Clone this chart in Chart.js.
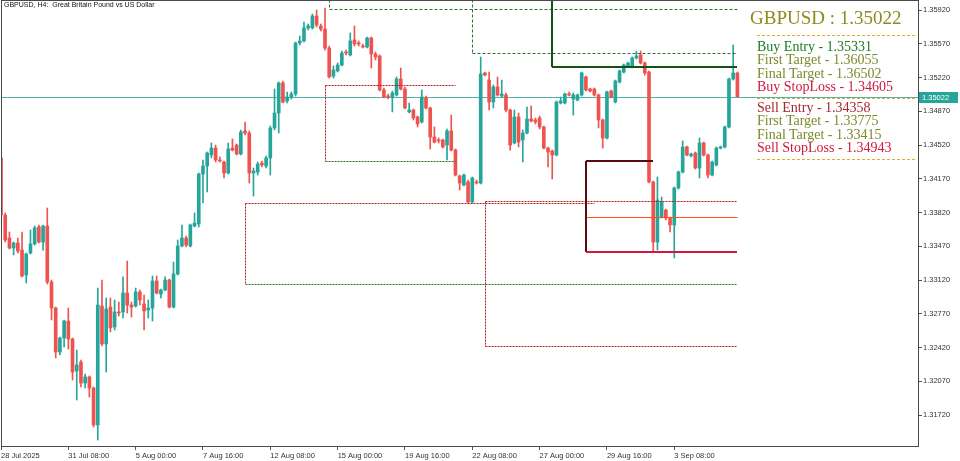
<!DOCTYPE html>
<html>
<head>
<meta charset="utf-8">
<title>GBPUSD H4</title>
<script src="https://cdn.jsdelivr.net/npm/chart.js@4.4.1/dist/chart.umd.min.js"></script>
<style>
  html, body { margin: 0; padding: 0; background: #fff; }
  #wrap { position: relative; width: 960px; height: 461px; overflow: hidden; }
  canvas { display: block; }
  #symbol { position: absolute; left: 4px; top: 1px; font: 7px "Liberation Sans", Arial, sans-serif; color: #111; white-space: pre; }
  .panel { position: absolute; font-family: "Liberation Serif", "Times New Roman", serif; white-space: nowrap; }
  #head { left: 750px; top: 8px; font-size: 19px; line-height: 19px; color: #8c8c1c; }
  .grp { left: 757px; font-size: 14px; line-height: 13.3px; }
  #buyGrp { top: 40px; }
  #sellGrp { top: 101px; }
  .entryBuy { color: #1e7b1e; }
  .tgt { color: #7b8a2a; }
  .stop { color: #d0183f; }
  .entrySell { color: #a52634; }
</style>
</head>
<body>
<div id="wrap">
  <canvas id="chart" width="960" height="461"></canvas>
  <div id="symbol">GBPUSD, H4:  Great Britain Pound vs US Dollar</div>
  <div class="panel" id="head"></div>
  <div class="panel grp" id="buyGrp"></div>
  <div class="panel grp" id="sellGrp"></div>
</div>
<script>
// H4 candles, 28 Jul 2025 16:00 .. 5 Sep 2025 20:00
const opens = [
  1.34386, 1.33794, 1.33556, 1.33452, 1.33504, 1.33431, 1.33172, 1.33400, 1.33494, 1.33670,
  1.33514, 1.33680, 1.33100, 1.32830, 1.32374, 1.32519, 1.32695, 1.32509, 1.32177, 1.32270,
  1.32052, 1.32115, 1.32000, 1.31617, 1.32851, 1.32457, 1.32840, 1.32633, 1.32789, 1.32789,
  1.32986, 1.32861, 1.32851, 1.32996, 1.32872, 1.32809, 1.32830, 1.33110, 1.32975, 1.33017,
  1.33120, 1.32840, 1.33183, 1.33473, 1.33556, 1.33473, 1.33680, 1.33701, 1.34220, 1.34303,
  1.34417, 1.34489, 1.34365, 1.34344, 1.34230, 1.34489, 1.34520, 1.34427, 1.34666, 1.34645,
  1.34230, 1.34240, 1.34334, 1.34303, 1.34386, 1.34697, 1.34852, 1.35163, 1.34977, 1.35018,
  1.35049, 1.35578, 1.35599, 1.35734, 1.35734, 1.35858, 1.35754, 1.35723, 1.35526, 1.35236,
  1.35288, 1.35350, 1.35485, 1.35454, 1.35609, 1.35578, 1.35547, 1.35537, 1.35630, 1.35464,
  1.35443, 1.35091, 1.35028, 1.35018, 1.35039, 1.35205, 1.35101, 1.34863, 1.34883, 1.34811,
  1.34759, 1.35008, 1.34904, 1.34603, 1.34572, 1.34572, 1.34520, 1.34666, 1.34468, 1.34199,
  1.34106, 1.34137, 1.33929, 1.34137, 1.34126, 1.35267, 1.35194, 1.34966, 1.35122, 1.35028,
  1.35039, 1.34883, 1.34541, 1.34811, 1.34572, 1.34645, 1.34790, 1.34780, 1.34800, 1.34707,
  1.34489, 1.34458, 1.34417, 1.34956, 1.34956, 1.35049, 1.34997, 1.34987, 1.35039, 1.35226,
  1.35101, 1.35101, 1.35039, 1.34780, 1.34593, 1.35080, 1.34966, 1.35174, 1.35277, 1.35340,
  1.35329, 1.35423, 1.35454, 1.35371, 1.35277, 1.34137, 1.33514, 1.33774, 1.33846, 1.33763,
  1.33691, 1.34074, 1.34240, 1.34500, 1.34406, 1.34437, 1.34282, 1.34541, 1.34417, 1.34209,
  1.34313, 1.34489, 1.34500, 1.34707, 1.35205, 1.35267
];
const highs = [
  1.34417, 1.33815, 1.33618, 1.33514, 1.33556, 1.33618, 1.33400, 1.33639, 1.33680, 1.33691,
  1.33691, 1.33867, 1.33120, 1.32840, 1.32529, 1.32706, 1.32830, 1.32519, 1.32394, 1.32291,
  1.32146, 1.32125, 1.32011, 1.33037, 1.33120, 1.32934, 1.32934, 1.32913, 1.32892, 1.33152,
  1.33317, 1.32892, 1.33037, 1.33017, 1.32965, 1.32913, 1.33162, 1.33162, 1.33027, 1.33152,
  1.33131, 1.33307, 1.33535, 1.33691, 1.33577, 1.33701, 1.33815, 1.34230, 1.34365, 1.34448,
  1.34541, 1.34520, 1.34396, 1.34354, 1.34541, 1.34583, 1.34531, 1.34676, 1.34759, 1.34666,
  1.34282, 1.34344, 1.34354, 1.34406, 1.34717, 1.35101, 1.35174, 1.35184, 1.35070, 1.35070,
  1.35588, 1.35651, 1.35796, 1.35775, 1.35879, 1.35920, 1.35775, 1.35941, 1.35547, 1.35340,
  1.35371, 1.35495, 1.35505, 1.35682, 1.35754, 1.35599, 1.35568, 1.35640, 1.35640, 1.35485,
  1.35454, 1.35111, 1.35049, 1.35080, 1.35226, 1.35319, 1.35122, 1.34956, 1.34894, 1.34821,
  1.35091, 1.35028, 1.34914, 1.34707, 1.34593, 1.34583, 1.34686, 1.34831, 1.34479, 1.34209,
  1.34220, 1.34157, 1.34189, 1.34157, 1.35433, 1.35277, 1.35277, 1.35143, 1.35226, 1.35194,
  1.35060, 1.34894, 1.34883, 1.34852, 1.34676, 1.34914, 1.34925, 1.34800, 1.34821, 1.34717,
  1.34500, 1.34468, 1.34977, 1.35018, 1.35060, 1.35070, 1.35060, 1.35049, 1.35277, 1.35236,
  1.35111, 1.35111, 1.35049, 1.34790, 1.35080, 1.35091, 1.35194, 1.35298, 1.35360, 1.35381,
  1.35433, 1.35495, 1.35495, 1.35381, 1.35288, 1.34147, 1.34189, 1.33981, 1.33857, 1.33774,
  1.34085, 1.34251, 1.34562, 1.34510, 1.34437, 1.34448, 1.34593, 1.34551, 1.34427, 1.34354,
  1.34500, 1.34510, 1.34717, 1.35215, 1.35557, 1.35277
];
const lows = [
  1.33774, 1.33514, 1.33442, 1.33380, 1.33400, 1.33152, 1.33089, 1.33390, 1.33483, 1.33504,
  1.33431, 1.33079, 1.32706, 1.32312, 1.32343, 1.32426, 1.32405, 1.32083, 1.31876, 1.32011,
  1.32000, 1.31907, 1.31596, 1.31461, 1.32436, 1.32166, 1.32581, 1.32602, 1.32747, 1.32726,
  1.32778, 1.32737, 1.32840, 1.32861, 1.32602, 1.32726, 1.32695, 1.32975, 1.32934, 1.33006,
  1.32830, 1.32830, 1.33172, 1.33463, 1.33463, 1.33463, 1.33670, 1.33670, 1.33919, 1.34033,
  1.34386, 1.34344, 1.34344, 1.34178, 1.34220, 1.34458, 1.34417, 1.34417, 1.34624, 1.34126,
  1.33991, 1.34209, 1.34292, 1.34282, 1.34209, 1.34676, 1.34645, 1.34956, 1.34956, 1.34997,
  1.35028, 1.35557, 1.35588, 1.35713, 1.35723, 1.35744, 1.35703, 1.35505, 1.35215, 1.35215,
  1.35277, 1.35340, 1.35454, 1.35443, 1.35547, 1.35547, 1.35526, 1.35526, 1.35319, 1.35402,
  1.35080, 1.35008, 1.34997, 1.34863, 1.35028, 1.35091, 1.34894, 1.34852, 1.34780, 1.34707,
  1.34748, 1.34894, 1.34479, 1.34541, 1.34541, 1.34489, 1.34365, 1.34458, 1.34199, 1.34054,
  1.34095, 1.33919, 1.33919, 1.34116, 1.34116, 1.35236, 1.34883, 1.34904, 1.35028, 1.35018,
  1.34863, 1.34468, 1.34531, 1.34500, 1.34344, 1.34634, 1.34759, 1.34738, 1.34686, 1.34479,
  1.34292, 1.34168, 1.34406, 1.34946, 1.34946, 1.35028, 1.34831, 1.34977, 1.35028, 1.35080,
  1.35070, 1.35028, 1.34697, 1.34489, 1.34583, 1.35008, 1.34956, 1.35163, 1.35267, 1.35329,
  1.35319, 1.35412, 1.35360, 1.35246, 1.34126, 1.33411, 1.33431, 1.33763, 1.33743, 1.33618,
  1.33349, 1.34064, 1.34230, 1.34406, 1.34396, 1.34271, 1.34178, 1.34406, 1.34178, 1.34199,
  1.34303, 1.34479, 1.34489, 1.34697, 1.35194, 1.35016
];
const closes = [
  1.33794, 1.33535, 1.33452, 1.33504, 1.33421, 1.33162, 1.33390, 1.33494, 1.33660, 1.33514,
  1.33680, 1.33100, 1.32830, 1.32374, 1.32519, 1.32695, 1.32509, 1.32166, 1.32239, 1.32052,
  1.32115, 1.32000, 1.31617, 1.32861, 1.32457, 1.32820, 1.32623, 1.32789, 1.32778, 1.32986,
  1.32861, 1.32840, 1.32996, 1.32913, 1.32799, 1.32830, 1.33110, 1.32986, 1.33017, 1.33120,
  1.32840, 1.33183, 1.33473, 1.33556, 1.33483, 1.33691, 1.33711, 1.34220, 1.34303, 1.34437,
  1.34489, 1.34365, 1.34354, 1.34230, 1.34479, 1.34468, 1.34427, 1.34655, 1.34645, 1.34230,
  1.34251, 1.34323, 1.34313, 1.34386, 1.34697, 1.34852, 1.35163, 1.34966, 1.35018, 1.35049,
  1.35578, 1.35599, 1.35734, 1.35754, 1.35858, 1.35765, 1.35723, 1.35526, 1.35226, 1.35298,
  1.35350, 1.35474, 1.35474, 1.35599, 1.35568, 1.35568, 1.35537, 1.35630, 1.35464, 1.35433,
  1.35091, 1.35018, 1.35018, 1.35060, 1.35205, 1.35101, 1.34904, 1.34883, 1.34800, 1.34738,
  1.35018, 1.34904, 1.34603, 1.34551, 1.34562, 1.34500, 1.34666, 1.34468, 1.34209, 1.34126,
  1.34209, 1.33929, 1.34178, 1.34126, 1.35257, 1.35246, 1.34966, 1.35122, 1.35039, 1.35049,
  1.34883, 1.34520, 1.34811, 1.34551, 1.34645, 1.34790, 1.34769, 1.34759, 1.34707, 1.34489,
  1.34448, 1.34417, 1.34966, 1.34977, 1.35049, 1.35039, 1.35039, 1.35039, 1.35267, 1.35091,
  1.35080, 1.35039, 1.34780, 1.34593, 1.35070, 1.35018, 1.35184, 1.35288, 1.35350, 1.35371,
  1.35423, 1.35443, 1.35371, 1.35267, 1.34137, 1.33514, 1.33950, 1.33929, 1.33763, 1.33691,
  1.34074, 1.34240, 1.34500, 1.34417, 1.34427, 1.34282, 1.34541, 1.34417, 1.34209, 1.34344,
  1.34489, 1.34500, 1.34707, 1.35205, 1.35267, 1.35022
];

// time axis labels (bar index -> text)
const timeTickBars = [0, 16, 32, 48, 64, 80, 96, 112, 128, 144, 160];
const timeTickLabels = ['28 Jul 2025', '31 Jul 08:00', '5 Aug 00:00', '7 Aug 16:00', '12 Aug 08:00',
  '15 Aug 00:00', '19 Aug 16:00', '22 Aug 08:00', '27 Aug 00:00', '29 Aug 16:00', '3 Sep 08:00'];
const priceTicks = [1.31720, 1.32070, 1.32420, 1.32770, 1.33120, 1.33470, 1.33820,
  1.34170, 1.34520, 1.34870, 1.35220, 1.35570, 1.35920];

const symbolName = 'GBPUSD';
const currentPrice = 1.35022;
const buyLevels = { entry: 1.35331, target1: 1.36055, target2: 1.36502, stop: 1.34605 };
const sellLevels = { entry: 1.34358, target1: 1.33775, target2: 1.33415, stop: 1.34943 };

// drawn objects: [fromBar, fromPrice, toBar, toPrice, kind]
const zoneLines = [
  [78, 1.36400, 78, 1.35931, 'gDash'],
  [78, 1.35931, 175, 1.35931, 'gDash'],
  [112, 1.36400, 112, 1.35474, 'gDash'],
  [112, 1.35474, 175, 1.35474, 'gDash'],
  [77, 1.35143, 108, 1.35143, 'rDot'],
  [77, 1.35143, 77, 1.34354, 'rDot'],
  [77, 1.34354, 108, 1.34354, 'gDot'],
  [58, 1.33919, 141, 1.33919, 'rDot'],
  [58, 1.33919, 58, 1.33079, 'rDot'],
  [58, 1.33079, 175, 1.33079, 'gDot'],
  [115, 1.33940, 175, 1.33940, 'rDot'],
  [115, 1.33940, 115, 1.32436, 'rDot'],
  [115, 1.32436, 175, 1.32436, 'rDot'],
  [131, 1.36400, 131, buyLevels.entry, 'buy'],
  [131, buyLevels.entry, 175, buyLevels.entry, 'buy'],
  [139, sellLevels.entry, 155, sellLevels.entry, 'sell'],
  [139, sellLevels.entry, 139, sellLevels.target2, 'sell'],
  [139, sellLevels.target1, 175, sellLevels.target1, 'tp1'],
  [139, sellLevels.target2, 175, sellLevels.target2, 'tp2']
];

const lineStyles = {
  gDash: { color: '#2f6e2a', width: 1, dash: [3, 2] },
  gDot: { color: '#2f6e2a', width: 1, dash: [2, 1] },
  rDot: { color: '#b71c1c', width: 1, dash: [2, 1] },
  buy: { color: '#145214', width: 2, dash: [] },
  sell: { color: '#5a0a0a', width: 2, dash: [] },
  tp1: { color: '#ff4f1a', width: 1, dash: [] },
  tp2: { color: '#d3173f', width: 2, dash: [] }
};

const bullColor = '#26a69a';
const bearColor = '#ef5350';
const totalSlots = 218.16;

// info panel text
const fmt = v => v.toFixed(5);
document.getElementById('head').textContent = symbolName + ' : ' + fmt(currentPrice);
document.getElementById('buyGrp').innerHTML =
  '<div class="entryBuy">Buy Entry - ' + fmt(buyLevels.entry) + '</div>' +
  '<div class="tgt">First Target - ' + fmt(buyLevels.target1) + '</div>' +
  '<div class="tgt">Final Target - ' + fmt(buyLevels.target2) + '</div>' +
  '<div class="stop">Buy StopLoss - ' + fmt(buyLevels.stop) + '</div>';
document.getElementById('sellGrp').innerHTML =
  '<div class="entrySell">Sell Entry - ' + fmt(sellLevels.entry) + '</div>' +
  '<div class="tgt">First Target - ' + fmt(sellLevels.target1) + '</div>' +
  '<div class="tgt">Final Target - ' + fmt(sellLevels.target2) + '</div>' +
  '<div class="stop">Sell StopLoss - ' + fmt(sellLevels.stop) + '</div>';

const candleColors = opens.map((o, i) => closes[i] >= o ? bullColor : bearColor);
const bodies = opens.map((o, i) => ({ x: i, y: [o, closes[i]] }));
const wicks = lows.map((l, i) => ({ x: i, y: [l, highs[i]] }));

// no extra label padding, the frame sits right at the canvas edge
const noPad = s => { s.paddingTop = 0; s.paddingBottom = 0; s.paddingLeft = 0; s.paddingRight = 0; };

const overlayPlugin = {
  id: 'overlay',
  beforeDatasetsDraw(chart) {
    const { ctx, chartArea, scales } = chart;
    const y = Math.round(scales.y.getPixelForValue(currentPrice)) + 0.5;
    ctx.save();
    ctx.strokeStyle = '#4fb3a9';
    ctx.lineWidth = 1;
    ctx.beginPath();
    ctx.moveTo(chartArea.left, y);
    ctx.lineTo(chartArea.right, y);
    ctx.stroke();
    ctx.restore();
  },
  afterDatasetsDraw(chart) {
    const { ctx, chartArea, scales } = chart;
    ctx.save();
    ctx.beginPath();
    ctx.rect(chartArea.left, chartArea.top, chartArea.right - chartArea.left, chartArea.bottom - chartArea.top);
    ctx.clip();
    zoneLines.forEach(([b1, p1, b2, p2, kind]) => {
      const st = lineStyles[kind];
      const snap = v => st.width % 2 ? Math.round(v) + 0.5 : Math.round(v);
      ctx.strokeStyle = st.color;
      ctx.lineWidth = st.width;
      ctx.setLineDash(st.dash);
      ctx.beginPath();
      ctx.moveTo(snap(scales.x.getPixelForValue(b1)), snap(scales.y.getPixelForValue(p1)));
      ctx.lineTo(snap(scales.x.getPixelForValue(b2)), snap(scales.y.getPixelForValue(p2)));
      ctx.stroke();
    });
    ctx.restore();
  },
  afterDraw(chart) {
    const { ctx, chartArea, scales } = chart;
    ctx.save();
    // frame
    ctx.strokeStyle = '#4a4a4a';
    ctx.lineWidth = 1;
    ctx.strokeRect(chartArea.left + 0.5, chartArea.top - 0.5, chartArea.right - chartArea.left - 1, chartArea.bottom - chartArea.top);
    // panel separators
    ctx.strokeStyle = '#e8a82a';
    ctx.setLineDash([3, 2]);
    [35.5, 98.5, 159.5].forEach(y => {
      ctx.beginPath();
      ctx.moveTo(757, y);
      ctx.lineTo(916, y);
      ctx.stroke();
    });
    ctx.setLineDash([]);
    // current price tag
    const y = Math.round(scales.y.getPixelForValue(currentPrice));
    ctx.fillStyle = '#26a69a';
    ctx.fillRect(chartArea.right, y - 5, 39, 11);
    ctx.fillStyle = '#fff';
    ctx.font = '7.5px "Liberation Sans", Arial, sans-serif';
    ctx.textBaseline = 'middle';
    ctx.textAlign = 'left';
    ctx.fillText(fmt(currentPrice), chartArea.right + 3, y + 0.5);
    ctx.restore();
  }
};

new Chart(document.getElementById('chart'), {
  type: 'bar',
  data: {
    datasets: [
      { data: bodies, backgroundColor: candleColors, borderWidth: 0, barThickness: 3, grouped: false, minBarLength: 1 },
      { data: wicks, backgroundColor: candleColors, borderWidth: 0, barThickness: 1, grouped: false }
    ]
  },
  options: {
    responsive: false,
    animation: false,
    events: [],
    layout: { autoPadding: false, padding: { left: 1, top: 1, right: 0, bottom: 0 } },
    plugins: { legend: { display: false }, tooltip: { enabled: false } },
    scales: {
      x: {
        type: 'linear',
        min: 0,
        max: totalSlots,
        offset: false,
        grid: { offset: false, drawOnChartArea: false, drawTicks: true, tickLength: 3, color: '#555' },
        border: { display: false },
        afterBuildTicks: s => { s.ticks = timeTickBars.map(v => ({ value: v })); },
        afterFit: s => { s.height = 14; noPad(s); },
        ticks: {
          autoSkip: false,
          maxRotation: 0,
          align: 'start',
          padding: 1,
          color: '#333',
          font: { family: '"Liberation Sans", Arial, sans-serif', size: 7.5 },
          callback: (v, i) => timeTickLabels[i]
        }
      },
      y: {
        position: 'right',
        min: 1.313886,
        max: 1.360136,
        grid: { drawOnChartArea: false, drawTicks: true, tickLength: 3, color: '#555' },
        border: { display: false },
        afterBuildTicks: s => { s.ticks = priceTicks.map(v => ({ value: v })); },
        afterFit: s => { s.width = 41; noPad(s); },
        ticks: {
          padding: 1,
          color: '#333',
          font: { family: '"Liberation Sans", Arial, sans-serif', size: 7.5 },
          callback: v => v.toFixed(5)
        }
      }
    }
  },
  plugins: [overlayPlugin]
});
</script>
</body>
</html>
